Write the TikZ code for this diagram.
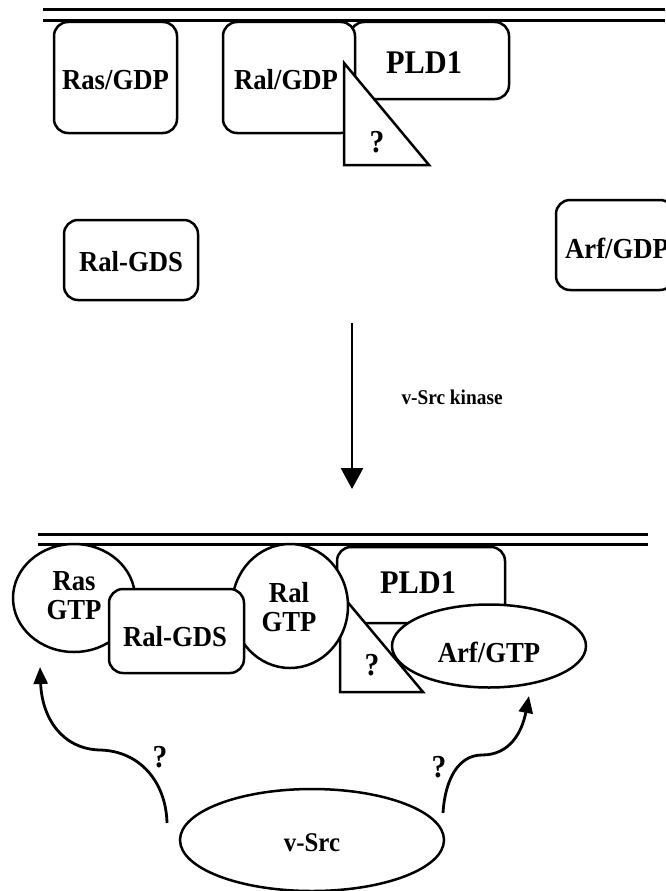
\documentclass[tikz,border=0pt]{standalone}
\usepackage{fontspec}
\setmainfont{Liberation Serif}[FakeStretch=0.92]
\usetikzlibrary{shapes.geometric,arrows.meta}
\newcommand\fA{\fontsize{29}{31}\selectfont\bfseries}
\newcommand\fB{\fontsize{33}{35}\selectfont\bfseries}
\newcommand\fC{\fontsize{21}{23}\selectfont\bfseries}
\tikzset{
  box/.style={draw, line width=2.5pt, rounded corners=14pt, fill=white, inner sep=0pt, font=\fA},
  ell/.style={draw, ellipse, line width=2.5pt, fill=white, inner sep=0pt, font=\fA, align=center},
  memb/.style={line width=3pt},
  tri/.style={draw, line width=2.5pt, fill=white, line join=miter},
  qm/.style={font=\fontsize{32}{34}\selectfont\bfseries, inner sep=0pt},
  curv/.style={line width=2.8pt, -{Triangle[length=17pt,width=14pt]}},
}
\begin{document}
\begin{tikzpicture}[x=1pt,y=-1pt]
\useasboundingbox (0,0) rectangle (665,891);
% ---------- top membrane ----------
\coordinate (m1a) at (43,9.5); \coordinate (m1b) at (665,9.5);
\coordinate (m2a) at (43,21); \coordinate (m2b) at (665,21);
\draw[memb] (m1a) -- (m1b);
\draw[memb] (m2a) -- (m2b);
% ---------- top complex ----------
\node[box, minimum width=123pt, minimum height=111pt] (rasgdp) at (115.5,77.5) {};
\node[font=\fA] (rasgdpt) at (115.5,80) {Ras/GDP};
\node[box, minimum width=159pt, minimum height=77pt] (pld1a) at (429.5,60.5) {};
\node[font=\fB] (pld1at) at (424,63) {PLD1};
\node[box, minimum width=132pt, minimum height=111pt] (ralgdp) at (289,77.5) {};
\node[font=\fA] (ralgdpt) at (286,80) {Ral/GDP};
\coordinate (ta1) at (344,63); \coordinate (ta2) at (344,165); \coordinate (ta3) at (429,165);
\draw[tri] (ta1) -- (ta2) -- (ta3) -- cycle;
\node[qm] (qa) at (377,142) {?};
\node[box, minimum width=134pt, minimum height=80pt] (ralgds1) at (131,260) {};
\node[font=\fA] (ralgds1t) at (131,262) {Ral-GDS};
\node[box, minimum width=118pt, minimum height=90pt] (arfgdp) at (615,245) {};
\node[font=\fA, anchor=west, inner sep=0pt] (arfgdpt) at (565,248) {Arf/GDP};
% ---------- main arrow ----------
\coordinate (ka) at (352,323); \coordinate (kb) at (352,489);
\draw[line width=2.8pt, -{Triangle[length=21pt,width=22pt]}] (ka) -- (kb);
\node[font=\fC, anchor=west] (kin) at (398,397) {v-Src kinase};
% ---------- bottom membrane ----------
\coordinate (m3a) at (38,534); \coordinate (m3b) at (648,534);
\coordinate (m4a) at (38,544); \coordinate (m4b) at (648,544);
\draw[memb] (m3a) -- (m3b);
\draw[memb] (m4a) -- (m4b);
% ---------- bottom complex ----------
\node[box, minimum width=168pt, minimum height=76pt] (pld1b) at (421,585) {};
\node[font=\fB] (pld1bt) at (418,583) {PLD1};
\coordinate (tb1) at (340,593); \coordinate (tb2) at (340,692); \coordinate (tb3) at (423,692);
\draw[tri] (tb1) -- (tb2) -- (tb3) -- cycle;
\node[qm] (qb) at (372,665) {?};
\node[ell, minimum width=194pt, minimum height=83pt] (arfgtp) at (489,646) {};
\node[font=\fA] (arfgtpt) at (489,652) {Arf/GTP};
\node[ell, minimum width=116pt, minimum height=124pt] (ralgtp) at (290,606) {};
\node[font=\fA, align=center] (ralgtpt) at (289,607) {Ral\\[-2pt]GTP};
\node[ell, minimum width=122pt, minimum height=108pt] (rasgtp) at (74,598) {};
\node[font=\fA, align=center] (rasgtpt) at (74,596) {Ras\\[-2pt]GTP};
\node[box, minimum width=135pt, minimum height=84pt] (ralgds2) at (176.5,631) {};
\node[font=\fA] (ralgds2t) at (175,637) {Ral-GDS};
% ---------- v-Src ----------
\node[ell, minimum width=264pt, minimum height=102pt] (vsrc) at (312,840) {};
\node[font=\fontsize{27}{29}\selectfont\bfseries] (vsrct) at (312,843) {v-Src};
% ---------- curved arrows ----------
\coordinate (la) at (167,823); \coordinate (lb) at (40,667);
\draw[curv] (la) .. controls (166,782) and (140,751) .. (100,750)
               .. controls (62,749) and (42,718) .. (lb);
\coordinate (ra) at (443,813); \coordinate (rb) at (529,696);
\draw[curv] (ra) .. controls (445,780) and (458,755) .. (482,755)
               .. controls (510,755) and (522,732) .. (rb);
\node[qm] (ql) at (160,757) {?};
\node[qm] (qr) at (439,767) {?};
\end{tikzpicture}
\end{document}
